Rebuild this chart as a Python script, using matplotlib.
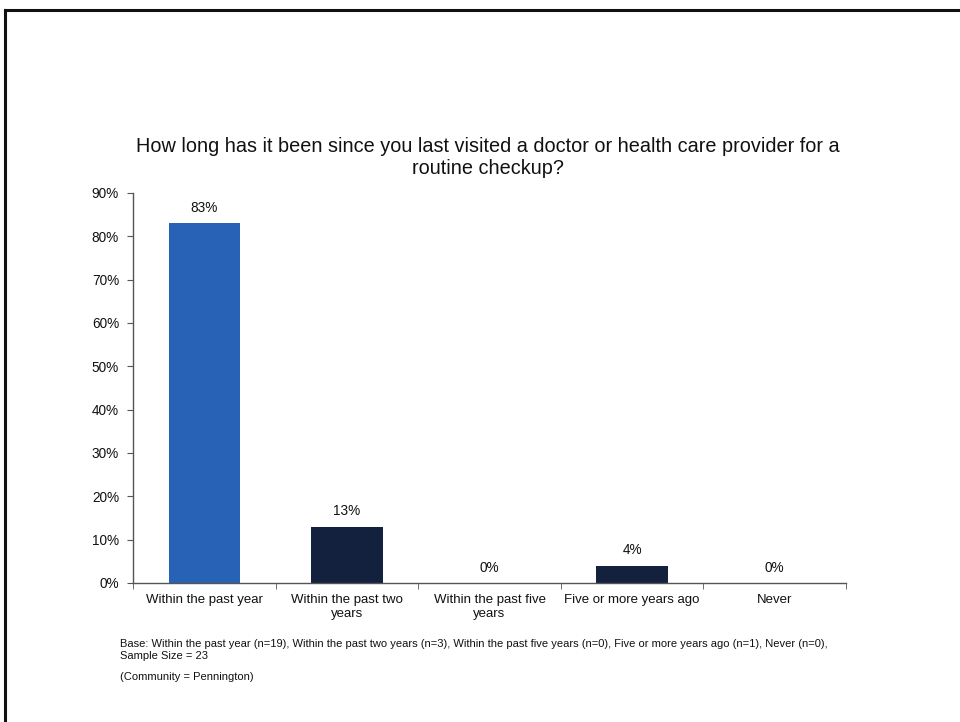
import matplotlib
matplotlib.use("Agg")
import matplotlib.pyplot as plt
from matplotlib.lines import Line2D

categories = ["Within the past year", "Within the past two\nyears", "Within the past five\nyears",
              "Five or more years ago", "Never"]
values = [83, 13, 0, 4, 0]
value_labels = ["83%", "13%", "0%", "4%", "0%"]
yticks = [0, 10, 20, 30, 40, 50, 60, 70, 80, 90]
ytick_labels = ["0%", "10%", "20%", "30%", "40%", "50%", "60%", "70%", "80%", "90%"]
bar_colors = ["#2762B6", "#13213F", "#13213F", "#13213F", "#13213F"]

title = "How long has it been since you last visited a doctor or health care provider for a\nroutine checkup?"
foot1 = ("Base: Within the past year (n=19), Within the past two years (n=3), Within the past five years (n=0), "
         "Five or more years ago (n=1), Never (n=0),\nSample Size = 23")
foot2 = "(Community = Pennington)"

plt.rcParams['font.family'] = ['Liberation Sans', 'DejaVu Sans']

W, H = 960, 722
fig = plt.figure(figsize=(W / 100, H / 100), dpi=100)
ax = fig.add_axes([133 / W, 1 - 583 / H, (846 - 133) / W, (583 - 193) / H])

x = list(range(len(categories)))
ax.bar(x, values, width=0.5, color=bar_colors)
for xi, v, lab in zip(x, values, value_labels):
    ax.annotate(lab, (xi, v), xytext=(0, 6), textcoords="offset points",
                ha="center", va="bottom", fontsize=9.8, color="#111111")

ax.set_xlim(-0.5, len(categories) - 0.5)
ax.set_ylim(0, 90)
ax.set_yticks(yticks)
ax.set_yticklabels(ytick_labels, fontsize=9.8, color="#111111")
ax.set_xticks(x)
ax.set_xticklabels(categories, fontsize=9.5, color="#111111", linespacing=1.25)
ax.tick_params(axis="x", length=0, pad=8)
ax.set_xticks([i - 0.5 for i in range(len(categories) + 1)], minor=True)
ax.tick_params(axis="x", which="minor", length=4, direction="out", color="#555555")
ax.tick_params(axis="y", length=4, direction="out", color="#555555", pad=6)
for s in ["top", "right"]:
    ax.spines[s].set_visible(False)
for s in ["left", "bottom"]:
    ax.spines[s].set_color("#555555")
    ax.spines[s].set_linewidth(1.0)

fig.text(488 / W, 1 - 158 / H, title, ha="center", va="center", fontsize=14.3,
         color="#111111", linespacing=1.2)
fig.text(120 / W, 1 - 639 / H, foot1, ha="left", va="top", fontsize=8.0,
         color="#111111", linespacing=1.3)
fig.text(120 / W, 1 - 672 / H, foot2, ha="left", va="top", fontsize=8.0, color="#111111")

# page border
fig.add_artist(Line2D([5 / W, 5 / W], [0, 1 - 10 / H], color="#111111", lw=2.2,
                      transform=fig.transFigure))
fig.add_artist(Line2D([5 / W, 1], [1 - 10 / H, 1 - 10 / H], color="#111111", lw=2.2,
                      transform=fig.transFigure))

fig.savefig("out.png", dpi=100)
